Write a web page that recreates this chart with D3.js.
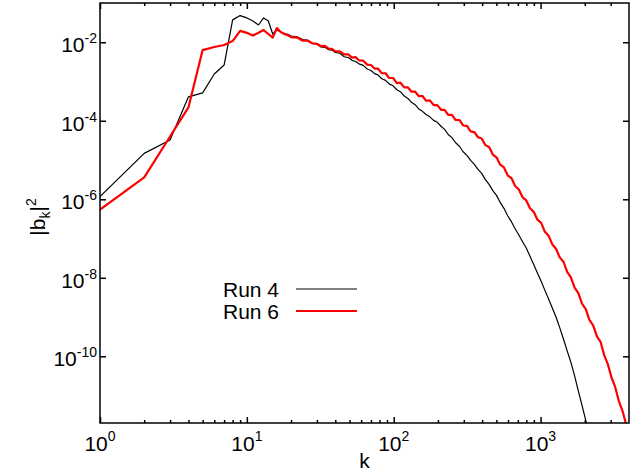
<!DOCTYPE html>
<html>
<head>
<meta charset="utf-8">
<script src="https://cdn.jsdelivr.net/npm/d3@7"></script>
<style>
  body { margin: 0; background: #fff; }
  text { font-family: "Liberation Sans", Arial, Helvetica, sans-serif; fill: #000; }
</style>
</head>
<body>
<script>
// wavenumbers, low end (every integer k)
var kLow = [1, 2, 3, 4, 5, 6, 7, 8, 9, 10, 11, 12, 13, 14, 15, 16, 17, 18, 19, 20];
// log10 |b_k|^2
var run4Low = [-5.93, -4.83, -4.49, -3.39, -3.29, -2.81, -2.58, -1.43, -1.32, -1.38,
               -1.46, -1.56, -1.38, -1.46, -1.79, -1.69, -1.74, -1.78, -1.80, -1.84];
var run6Low = [-6.26, -5.44, -4.40, -3.66, -2.20, -2.12, -2.07, -1.97, -1.71, -1.76,
               -1.83, -1.76, -1.69, -1.79, -1.88, -1.64, -1.74, -1.79, -1.82, -1.87];

// wavenumbers, high end (sampled)
var kHigh = [22, 24, 26, 28, 30, 32, 34, 36, 38, 40,
             43, 46, 49, 52, 55, 58, 62, 66, 70, 74,
             78, 83, 88, 93, 99, 105, 111, 118, 125, 132,
             140, 148, 157, 166, 176, 187, 198, 210, 222, 235,
             249, 264, 280, 297, 315, 334, 354, 375, 397, 421,
             446, 473, 501, 531, 563, 597, 633, 671, 711, 754,
             799, 847, 898, 952, 1009, 1070, 1134, 1202, 1274, 1350,
             1431, 1517, 1608, 1705, 1807, 1915, 2030, 2150, 2280, 2420,
             2560, 2710, 2870, 3040, 3220, 3410, 3620, 3840];
var run4High = [-1.86, -1.93, -1.95, -2.03, -2.05, -2.12, -2.13, -2.19, -2.20, -2.26,
                -2.28, -2.37, -2.39, -2.46, -2.49, -2.55, -2.59, -2.68, -2.72, -2.80,
                -2.83, -2.93, -2.97, -3.06, -3.11, -3.21, -3.26, -3.37, -3.43, -3.53,
                -3.59, -3.70, -3.76, -3.84, -3.90, -3.99, -4.04, -4.14, -4.22, -4.35,
                -4.43, -4.56, -4.65, -4.79, -4.88, -5.01, -5.11, -5.24, -5.34, -5.50,
                -5.62, -5.78, -5.90, -6.08, -6.23, -6.42, -6.57, -6.75, -6.91, -7.08,
                -7.24, -7.45, -7.66, -7.88, -8.09, -8.32, -8.54, -8.77, -9.00, -9.27,
                -9.56, -9.86, -10.15, -10.50, -10.88, -11.25, -11.63, -12.01];
var run6High = [-1.88, -1.96, -1.96, -2.03, -2.04, -2.10, -2.09, -2.16, -2.17, -2.23,
                -2.23, -2.31, -2.31, -2.39, -2.38, -2.46, -2.47, -2.57, -2.58, -2.67,
                -2.67, -2.79, -2.79, -2.91, -2.91, -3.04, -3.03, -3.15, -3.15, -3.26,
                -3.26, -3.37, -3.37, -3.49, -3.48, -3.60, -3.60, -3.72, -3.72, -3.85,
                -3.85, -3.98, -3.98, -4.12, -4.13, -4.27, -4.29, -4.42, -4.45, -4.62,
                -4.67, -4.86, -4.93, -5.12, -5.19, -5.39, -5.46, -5.66, -5.75, -5.95,
                -6.03, -6.23, -6.32, -6.52, -6.60, -6.83, -6.93, -7.15, -7.26, -7.48,
                -7.59, -7.85, -7.99, -8.25, -8.39, -8.66, -8.80, -9.07, -9.21, -9.49,
                -9.63, -9.97, -10.20, -10.54, -10.78, -11.14, -11.40, -11.76];

var seriesNames = ["Run 4", "Run 6"];
var seriesColors = ["#000000", "#ff0000"];

var xMajor = [1, 10, 100, 1000];
var xMinor = [2, 3, 4, 5, 6, 7, 8, 9, 20, 30, 40, 50, 60, 70, 80, 90,
              200, 300, 400, 500, 600, 700, 800, 900, 2000, 3000];
var yMajor = [1e-2, 1e-4, 1e-6, 1e-8, 1e-10];

var width = 635,
    height = 475,
    plotL = 100, plotR = 629, plotT = 3, plotB = 423;

var x = d3.scaleLog().domain([1, 4000]).range([plotL, plotR]);
var y = d3.scaleLog().domain([2e-12, 1e-1]).range([plotB, plotT]);

var svg = d3.select("body").append("svg")
            .attr("width", width)
            .attr("height", height);

svg.append("defs").append("clipPath")
   .attr("id", "plotClip")
   .append("rect")
   .attr("x", plotL).attr("y", plotT)
   .attr("width", plotR - plotL).attr("height", plotB - plotT);

function toPoints(ks, exps) {
    return exps.map(function(e, i) { return [ks[i], Math.pow(10, e)]; });
}

var series = [
    toPoints(kLow, run4Low).concat(toPoints(kHigh, run4High)),
    toPoints(kLow, run6Low).concat(toPoints(kHigh, run6High))
];
var widths = [1.2, 2.2];

var line = d3.line()
             .x(function(d) { return x(d[0]); })
             .y(function(d) { return y(d[1]); });

var plot = svg.append("g").attr("clip-path", "url(#plotClip)");
plot.selectAll(".run")
    .data(series)
    .enter()
    .append("path")
    .attr("class", "run")
    .attr("d", line)
    .attr("fill", "none")
    .attr("stroke", function(d, i) { return seriesColors[i]; })
    .attr("stroke-width", function(d, i) { return widths[i]; })
    .attr("stroke-linejoin", "round");

// ticks, all pointing inward
function tickAxis(axis, tx, ty) {
    var g = svg.append("g")
               .attr("transform", "translate(" + tx + "," + ty + ")")
               .call(axis);
    g.select(".domain").remove();
    g.selectAll("line").attr("stroke", "#000").attr("stroke-width", 1.5);
    g.selectAll("text").remove();
}
tickAxis(d3.axisBottom(x).tickValues(xMajor).tickSize(-6), 0, plotB);
tickAxis(d3.axisBottom(x).tickValues(xMinor).tickSize(-3), 0, plotB);
tickAxis(d3.axisTop(x).tickValues(xMajor).tickSize(-6), 0, plotT);
tickAxis(d3.axisTop(x).tickValues(xMinor).tickSize(-3), 0, plotT);
tickAxis(d3.axisLeft(y).tickValues(yMajor).tickSize(-6), plotL, 0);
tickAxis(d3.axisRight(y).tickValues(yMajor).tickSize(-6), plotR, 0);

svg.append("rect")
   .attr("x", plotL).attr("y", plotT)
   .attr("width", plotR - plotL).attr("height", plotB - plotT)
   .attr("fill", "none")
   .attr("stroke", "#000")
   .attr("stroke-width", 1.5);

function expOf(d) { return Math.round(Math.log10(d)); }

var xl = svg.selectAll(".xlab")
            .data(xMajor)
            .enter()
            .append("text")
            .attr("class", "xlab")
            .attr("x", function(d) { return x(d); })
            .attr("y", 451)
            .attr("text-anchor", "middle")
            .style("font-size", "21px");
xl.append("tspan").text("10");
xl.append("tspan").attr("dy", -10).style("font-size", "14px")
  .text(function(d) { return expOf(d); });

var yl = svg.selectAll(".ylab")
            .data(yMajor)
            .enter()
            .append("text")
            .attr("class", "ylab")
            .attr("x", 97)
            .attr("y", function(d) { return y(d) + 10; })
            .attr("text-anchor", "end")
            .style("font-size", "21px");
yl.append("tspan").text("10");
yl.append("tspan").attr("dy", -9).style("font-size", "14px")
  .text(function(d) { return "-" + Math.abs(expOf(d)); });

svg.append("text")
   .attr("x", (plotL + plotR) / 2)
   .attr("y", 468)
   .attr("text-anchor", "middle")
   .style("font-size", "21px")
   .text("k");

var yt = svg.append("text")
            .attr("transform", "translate(45," + ((plotT + plotB) / 2 + 4) + ") rotate(-90)")
            .attr("text-anchor", "middle")
            .style("font-size", "21px");
yt.append("tspan").text("|b");
yt.append("tspan").attr("dy", 5).style("font-size", "14px").text("k");
yt.append("tspan").attr("dy", -5).text("|");
yt.append("tspan").attr("dy", -9).style("font-size", "14px").text("2");

// legend
var lg = svg.selectAll(".legend")
            .data(seriesNames)
            .enter()
            .append("g")
            .attr("class", "legend")
            .attr("transform", function(d, i) { return "translate(0," + (i * 22) + ")"; });
lg.append("text")
  .attr("x", 223)
  .attr("y", 297)
  .style("font-size", "21px")
  .text(function(d) { return d; });
lg.append("line")
  .attr("x1", 296).attr("x2", 357)
  .attr("y1", 289).attr("y2", 289)
  .attr("stroke", function(d, i) { return seriesColors[i]; })
  .attr("stroke-width", function(d, i) { return widths[i]; });
</script>
</body>
</html>
